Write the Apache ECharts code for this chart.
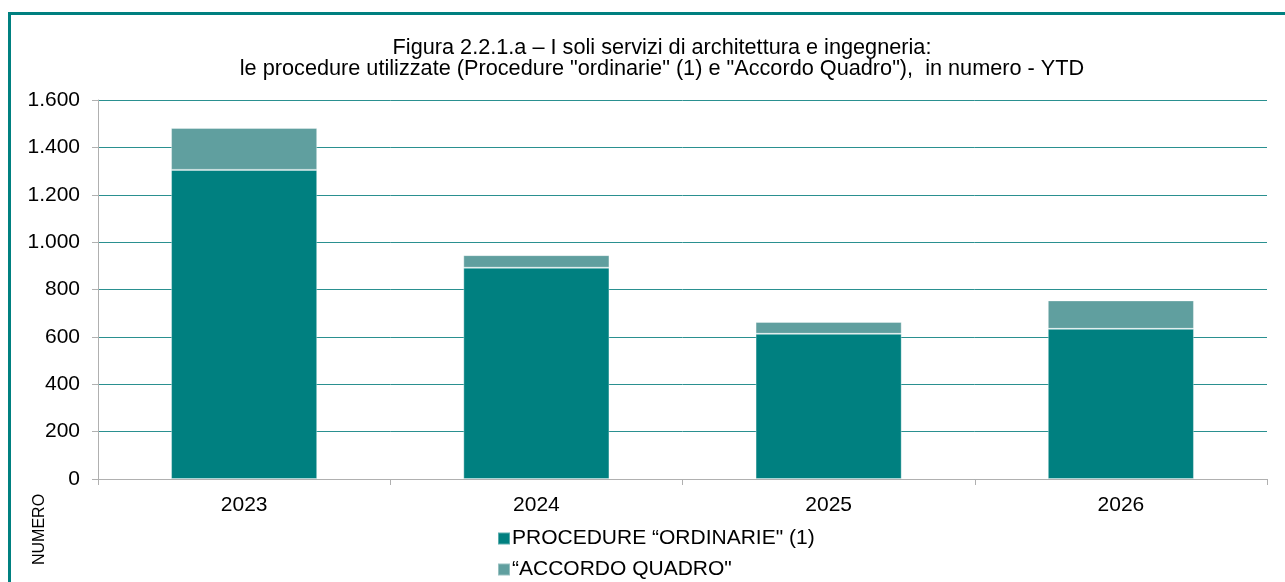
<!DOCTYPE html>
<html lang="it" style="height: 100%">
<head>
  <meta charset="utf-8">
</head>
<body style="height: 100%; margin: 0; background: #fff">
  <div id="container" style="width: 1285px; height: 582px"></div>

  <script type="text/javascript" src="https://fastly.jsdelivr.net/npm/echarts@6/dist/echarts.min.js"></script>

  <script type="text/javascript">
    var years = ['2023', '2024', '2025', '2026'];
    var ordinarie = [1305, 892, 613, 634];
    var accordoQuadro = [177, 53, 50, 120];
    var yTicks = [0, 200, 400, 600, 800, 1000, 1200, 1400, 1600];
    var seriesNames = ['PROCEDURE “ORDINARIE" (1)', '“ACCORDO QUADRO"'];

    var dom = document.getElementById('container');
    var myChart = echarts.init(dom, null, { renderer: 'canvas' });

    var font = '"Liberation Sans", Arial, sans-serif';

    // thousands with a dot, as in the original
    function fmt(v) {
      return String(v).replace(/\B(?=(\d{3})+(?!\d))/g, '.');
    }

    function legendItem(name, top) {
      return {
        data: [name],
        left: 492,
        top: top,
        itemWidth: 12,
        itemHeight: 12,
        icon: 'rect',
        textStyle: { fontFamily: font, fontSize: 21, color: '#000', padding: [0, 0, 0, -3] }
      };
    }

    var option = {
      backgroundColor: '#fff',
      textStyle: { fontFamily: font },
      title: {
        text: 'Figura 2.2.1.a – I soli servizi di architettura e ingegneria:\nle procedure utilizzate (Procedure "ordinarie" (1) e "Accordo Quadro"),  in numero - YTD',
        left: 657,
        textAlign: 'center',
        top: 33,
        textStyle: {
          fontFamily: font,
          fontSize: 21.7,
          fontWeight: 'normal',
          color: '#000',
          lineHeight: 21
        }
      },
      legend: [
        legendItem(seriesNames[0], 523),
        legendItem(seriesNames[1], 554)
      ],
      grid: {
        left: 98,
        right: 18,
        top: 100,
        bottom: 103,
        containLabel: false
      },
      xAxis: {
        type: 'category',
        data: years,
        axisLine: { lineStyle: { color: '#b0b0b0', width: 1 } },
        axisTick: { show: true, length: 6, lineStyle: { color: '#b0b0b0' } },
        axisLabel: { fontFamily: font, fontSize: 21, color: '#000', margin: 16 }
      },
      yAxis: {
        type: 'value',
        min: 0,
        max: 1600,
        interval: 200,
        axisLine: { show: true, lineStyle: { color: '#b0b0b0', width: 1 } },
        axisTick: { show: true, length: 6, lineStyle: { color: '#b0b0b0' } },
        axisLabel: {
          fontFamily: font,
          fontSize: 21,
          color: '#000',
          margin: 18,
          formatter: function (v) { return yTicks.indexOf(v) >= 0 ? fmt(v) : ''; }
        },
        splitLine: { lineStyle: { color: '#2a9090', width: 1 } }
      },
      graphic: [
        {
          type: 'rect',
          shape: { x: 9.5, y: 13.5, width: 1400, height: 700 },
          style: { fill: 'none', stroke: '#008080', lineWidth: 3 },
          silent: true
        },
        {
          type: 'text',
          x: 32,
          y: 565,
          rotation: Math.PI / 2,
          style: {
            text: 'NUMERO',
            font: '16px ' + font,
            fill: '#000'
          }
        }
      ],
      series: [
        {
          name: seriesNames[0],
          type: 'bar',
          stack: 'tot',
          barWidth: '50%',
          data: ordinarie,
          itemStyle: { color: '#008080', borderColor: 'rgba(255,255,255,0.35)', borderWidth: 1 }
        },
        {
          name: seriesNames[1],
          type: 'bar',
          stack: 'tot',
          barWidth: '50%',
          data: accordoQuadro,
          itemStyle: { color: '#609f9f', borderColor: 'rgba(255,255,255,0.35)', borderWidth: 1 }
        }
      ]
    };

    myChart.setOption(option);
    window.addEventListener('resize', myChart.resize);
  </script>
</body>
</html>
